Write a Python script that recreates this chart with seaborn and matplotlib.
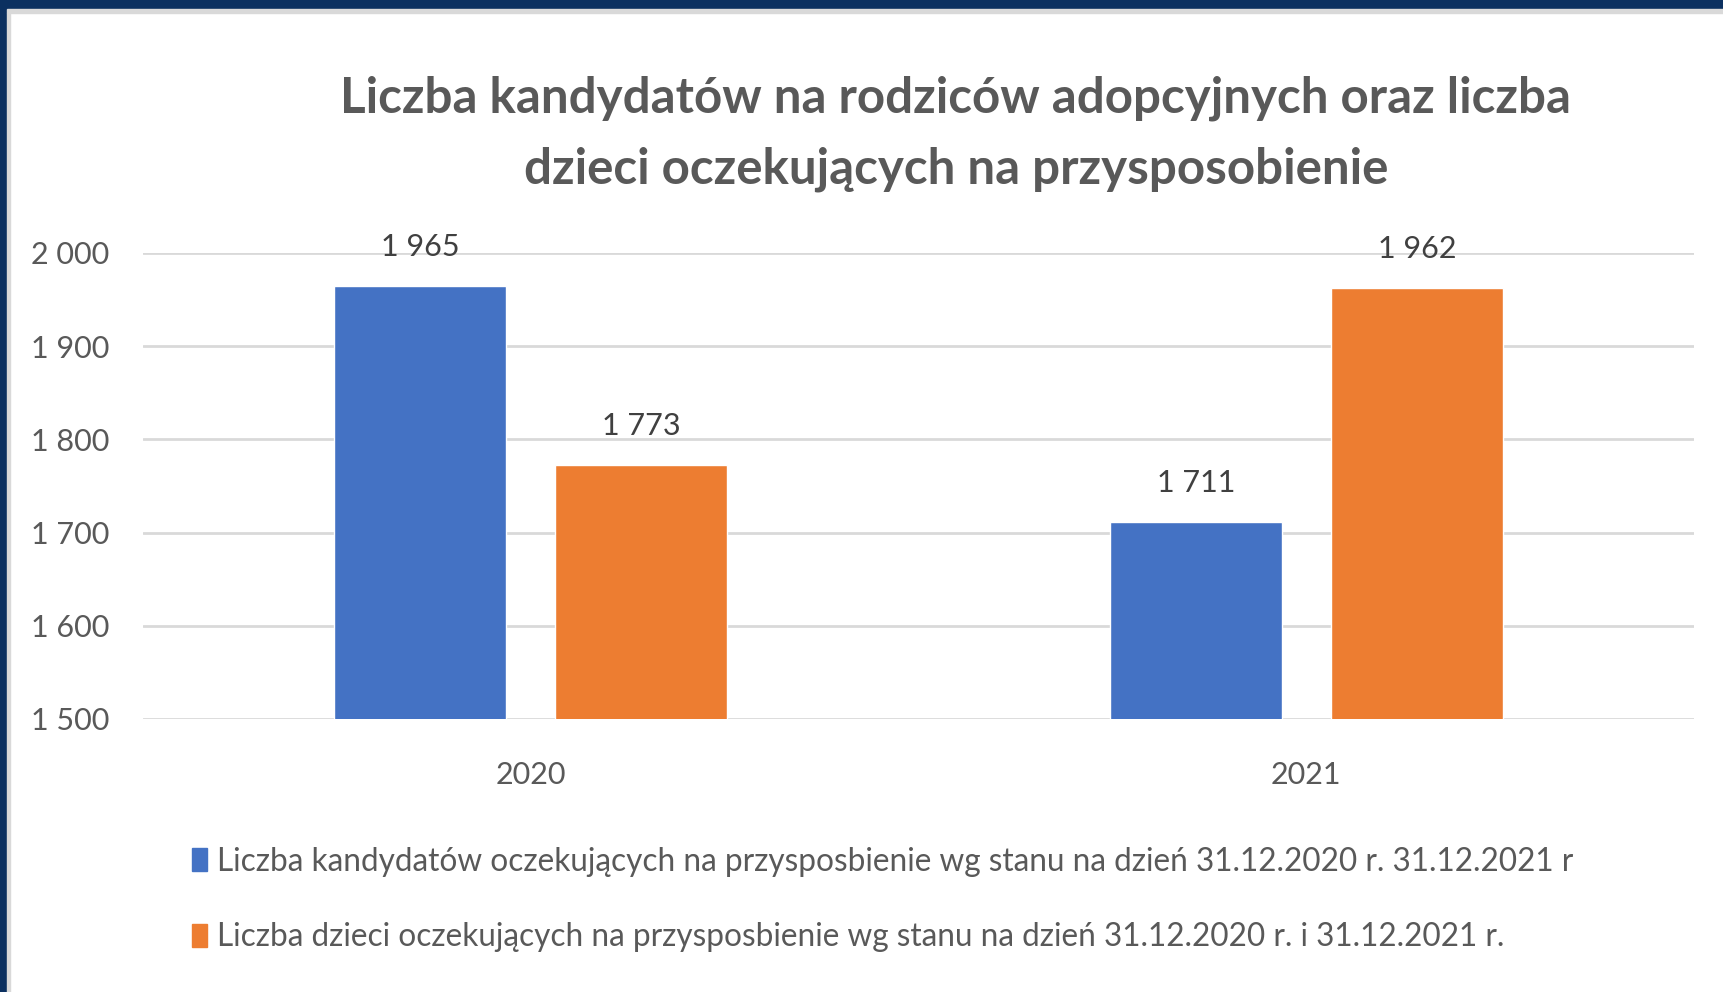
import matplotlib
matplotlib.use("Agg")
import matplotlib.pyplot as plt
import matplotlib.patches as mpatches
import seaborn as sns
import pandas as pd

years = ["2020", "2021"]
series_names = [
    "Liczba kandydatów oczekujących na przysposbienie wg stanu na dzień 31.12.2020 r. 31.12.2021 r",
    "Liczba dzieci oczekujących na przysposbienie wg stanu na dzień 31.12.2020 r. i 31.12.2021 r.",
]
kandydaci = [1965, 1711]
dzieci = [1773, 1962]
y_ticks = [1500, 1600, 1700, 1800, 1900, 2000]
title = "Liczba kandydatów na rodziców adopcyjnych oraz liczba\ndzieci oczekujących na przysposobienie"

colors = ["#4472C4", "#ED7D31"]
text_gray = "#595959"

df = pd.DataFrame({
    "rok": years * 2,
    "seria": [series_names[0]] * 2 + [series_names[1]] * 2,
    "wartosc": kandydaci + dzieci,
})

sns.set_theme(style="white")
plt.rcParams["font.family"] = ["Lato", "DejaVu Sans"]

fig = plt.figure(figsize=(17.24, 9.92), dpi=100)
ax = fig.add_axes([143 / 1724, 1 - 719 / 992, (1694 - 143) / 1724, (719 - 253) / 992])

sns.barplot(data=df, x="rok", y="wartosc", hue="seria", palette=colors,
            width=0.57, gap=0.22, ax=ax, legend=False, saturation=1)

ax.set_xlim(-0.5, 1.5)
ax.set_ylim(1500, 2000)
ax.set_yticks(y_ticks)
ax.set_yticklabels([f"{t:,}".replace(",", " ") for t in y_ticks])
ax.set_xlabel("")
ax.set_ylabel("")
ax.grid(axis="y", color="#D9D9D9", linewidth=2)
ax.set_axisbelow(True)
for s in ax.spines.values():
    s.set_visible(False)
ax.tick_params(axis="y", length=0, pad=24, labelsize=22, labelcolor=text_gray)
ax.tick_params(axis="x", length=0, pad=30, labelsize=22, labelcolor=text_gray)

for cont in ax.containers:
    labels = [f"{int(b.get_height()):,}".replace(",", " ") for b in cont]
    txts = ax.bar_label(cont, labels=labels, padding=18, fontsize=22, color="#404040")
    for t in txts:
        t.set_clip_on(False)

fig.text(956 / 1724, 1 - 134 / 992, title, ha="center", va="center", fontsize=35.5,
         fontweight="bold", color=text_gray, linespacing=1.7)

handles = [mpatches.Patch(color=c, label=n) for c, n in zip(colors, series_names)]
fig.legend(handles=handles, loc="upper left", bbox_to_anchor=(179 / 1724, 1 - 834 / 992),
           frameon=False, fontsize=22.7, labelcolor=text_gray, handlelength=0.5,
           handleheight=0.75, handletextpad=0.3, labelspacing=1.45, borderaxespad=0)

# dark frame around the picture
fig.patches.append(mpatches.Rectangle((0, 1 - 9 / 992), 1, 9 / 992, transform=fig.transFigure,
                                      color="#0B3060", zorder=0))
fig.patches.append(mpatches.Rectangle((0, 0), 7 / 1724, 1, transform=fig.transFigure,
                                      color="#0B3060", zorder=0))
fig.patches.append(mpatches.Rectangle((7 / 1724, 1 - 13 / 992), 1, 4 / 992, transform=fig.transFigure,
                                      color="#D9D9D9", zorder=0))
fig.patches.append(mpatches.Rectangle((7 / 1724, 0), 3 / 1724, 1 - 13 / 992, transform=fig.transFigure,
                                      color="#D9D9D9", zorder=0))

fig.savefig("out.png", dpi=100)
